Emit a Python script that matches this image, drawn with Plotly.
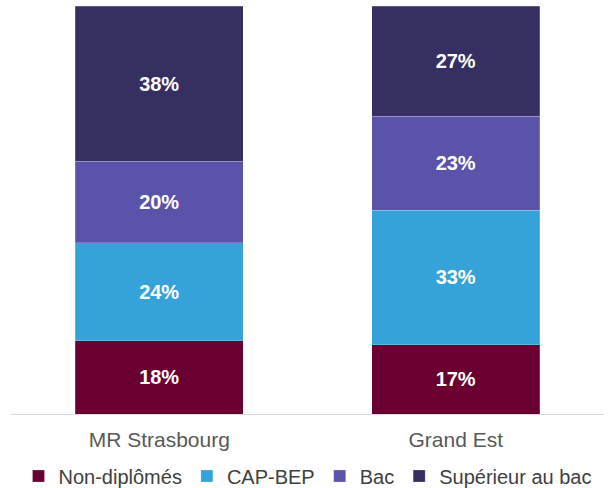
import plotly.graph_objects as go

categories = ["MR Strasbourg", "Grand Est"]
series_names = ["Non-diplômés", "CAP-BEP", "Bac", "Supérieur au bac"]
non_diplomes = [18, 17]
cap_bep = [24, 33]
bac = [20, 23]
superieur = [38, 27]

colors = ["#6a0032", "#35a3da", "#5b52aa", "#363062"]
values = [non_diplomes, cap_bep, bac, superieur]

fig = go.Figure()
for name, vals, color in zip(series_names, values, colors):
    fig.add_trace(go.Bar(
        x=categories,
        y=vals,
        name=name,
        marker={"color": color, "line": {"color": "rgba(255,255,255,0.4)", "width": 0.5}},
        text=[f"{v}%" for v in vals],
        textposition="inside",
        insidetextanchor="middle",
        textfont={"family": "Arial", "size": 20, "color": "white", "weight": "bold"},
    ))

fig.update_layout(
    barmode="stack",
    bargap=0.433,
    width=609,
    height=488,
    margin={"t": 6, "b": 74, "l": 11, "r": 5, "autoexpand": False},
    paper_bgcolor="white",
    plot_bgcolor="white",
    font={"family": "Arial", "color": "#595959", "size": 21},
    legend={
        "orientation": "h",
        "xanchor": "center",
        "x": 0.5,
        "yanchor": "middle",
        "y": -0.152,
        "font": {"size": 20, "color": "#404040"},
        "itemwidth": 30,
        "bgcolor": "rgba(0,0,0,0)",
        "traceorder": "normal",
    },
    xaxis={
        "showline": True,
        "linecolor": "#d9d9d9",
        "linewidth": 1,
        "ticks": "",
        "ticklabelstandoff": 7,
        "tickfont": {"size": 21, "color": "#595959"},
    },
    yaxis={
        "range": [0, 100],
        "visible": False,
    },
    uniformtext={"mode": "show", "minsize": 10},
)

# the page's default body margin would shift the figure by 8px
fig.write_html(
    "out.html",
    config={"displayModeBar": False},
    post_script="document.body.style.margin='0';",
)
